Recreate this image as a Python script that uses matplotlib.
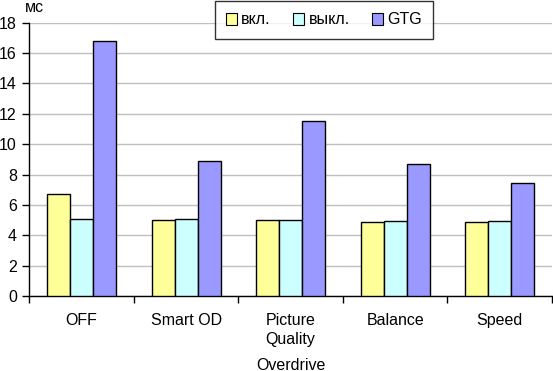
import matplotlib
matplotlib.use("Agg")
import matplotlib.pyplot as plt
import numpy as np

categories = ["OFF", "Smart OD", "Picture\nQuality", "Balance", "Speed"]
series_names = ["вкл.", "выкл.", "GTG"]
vkl = [6.7, 5.0, 5.0, 4.9, 4.9]
vykl = [5.1, 5.05, 5.0, 4.95, 4.95]
gtg = [16.8, 8.9, 11.5, 8.7, 7.45]
colors = ["#FFFF99", "#CCFFFF", "#9999FF"]
yticks = [0, 2, 4, 6, 8, 10, 12, 14, 16, 18]

FS = 11.5
plt.rcParams['font.family'] = ['Liberation Sans', 'DejaVu Sans']
fig = plt.figure(figsize=(5.53, 3.71), dpi=100)
ax = fig.add_axes([29.3/553, 1-296/371, (552-29.3)/553, (296-22.7)/371])

x = np.arange(len(categories))
w = 0.22
for i, (vals, name, c) in enumerate(zip([vkl, vykl, gtg], series_names, colors)):
    ax.bar(x + (i-1)*w, vals, width=w, color=c, edgecolor="black", linewidth=1.0,
           label=name, zorder=3)

ax.set_xlim(-0.5, len(categories)-0.5)
ax.set_ylim(0, 18)
ax.set_yticks(yticks)
ax.set_yticklabels([str(t) for t in yticks], fontsize=FS)
ax.yaxis.grid(True, color="#C0C0C0", linewidth=1.0, zorder=0)
ax.set_axisbelow(True)
for s in ["top", "right"]:
    ax.spines[s].set_visible(False)
ax.spines["left"].set_linewidth(1.0)
ax.spines["bottom"].set_linewidth(1.0)
ax.tick_params(axis="y", length=5, width=1, pad=4, direction="out")

ax.set_xticks(x)
ax.set_xticklabels(categories, fontsize=FS, linespacing=1.4)
ax.set_xticks(np.arange(-0.5, len(categories), 1.0), minor=True)
ax.tick_params(axis="x", which="major", length=0, pad=12)
ax.tick_params(axis="x", which="minor", length=5, width=1, direction="out")

fig.text(0.5 * (29.3 + 552) / 553, 1-365/371, "Overdrive", fontsize=FS, ha="center", va="center")
fig.text(25/553, 1-8/371, "мс", fontsize=FS, ha="left", va="center")

leg = fig.legend(loc="center", bbox_to_anchor=(324/553, 1-20/371), ncol=3,
                 fontsize=FS, frameon=True, fancybox=False, shadow=False,
                 handlelength=0.7, handleheight=0.7, handletextpad=0.25,
                 columnspacing=1.4, borderpad=0.7, edgecolor="black")
leg.get_frame().set_linewidth(1.0)
for h in leg.legend_handles:
    h.set_linewidth(0.8)

fig.savefig("out.png", dpi=100)
